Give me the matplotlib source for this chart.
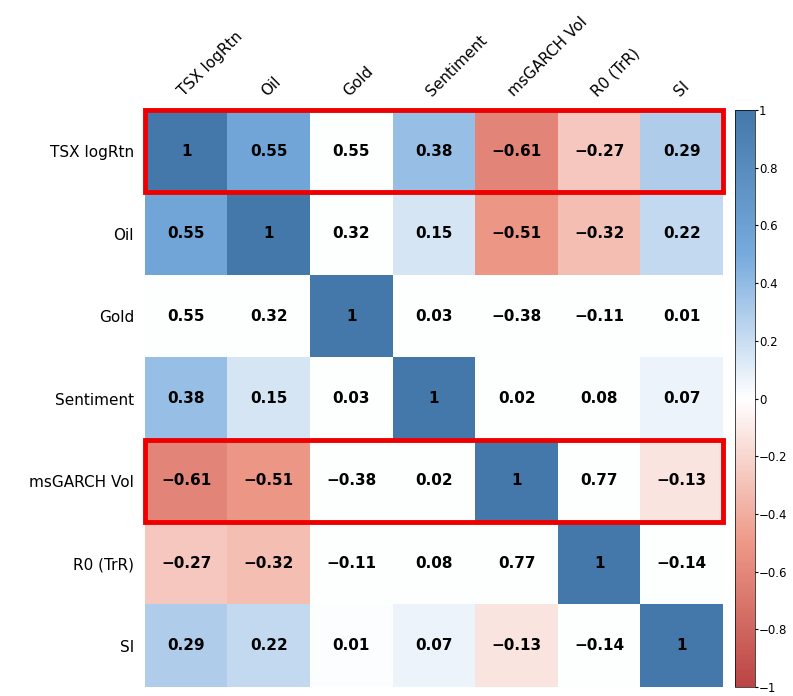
import matplotlib
matplotlib.use("Agg")
import matplotlib.pyplot as plt
import numpy as np
from matplotlib.colors import LinearSegmentedColormap
from matplotlib.patches import Rectangle

labels = ["TSX logRtn", "Oil", "Gold", "Sentiment", "msGARCH Vol", "R0 (TrR)", "SI"]
vals = np.array([
    [1, 0.55, 0.55, 0.38, -0.61, -0.27, 0.29],
    [0.55, 1, 0.32, 0.15, -0.51, -0.32, 0.22],
    [0.55, 0.32, 1, 0.03, -0.38, -0.11, 0.01],
    [0.38, 0.15, 0.03, 1, 0.02, 0.08, 0.07],
    [-0.61, -0.51, -0.38, 0.02, 1, 0.77, -0.13],
    [-0.27, -0.32, -0.11, 0.08, 0.77, 1, -0.14],
    [0.29, 0.22, 0.01, 0.07, -0.13, -0.14, 1],
])
shown = np.array([
    [1, 1, 0, 1, 1, 1, 1],
    [1, 1, 0, 1, 1, 1, 1],
    [0, 0, 1, 0, 0, 0, 0],
    [1, 1, 0, 1, 0, 0, 1],
    [1, 1, 0, 0, 1, 0, 1],
    [1, 1, 0, 0, 0, 1, 0],
    [1, 1, 1, 1, 1, 0, 1],
])
highlight_rows = [0, 4]

cmap = LinearSegmentedColormap.from_list("c", ["#BB4444", "#EE9988", "#FFFFFF", "#77AADD", "#4477AA"])
colorvals = np.where(shown == 1, vals, 0)

fig = plt.figure(figsize=(7.93, 6.96), dpi=100)
ax = fig.add_axes([145/793, 9/696, 578/793, 577/696])
im = ax.imshow(colorvals, cmap=cmap, vmin=-1, vmax=1, aspect="auto")
n = len(labels)
for i in range(n):
    for j in range(n):
        ax.text(j, i, f"{vals[i, j]:g}".replace("-", "\u2212"), ha="center", va="center",
                fontsize=11, fontweight="bold", color="black")
ax.set_xticks(range(n))
ax.set_yticks(range(n))
ax.xaxis.tick_top()
ax.set_xticklabels(labels, rotation=45, ha="left", rotation_mode="anchor", fontsize=11)
ax.set_yticklabels(labels, fontsize=11)
ax.tick_params(length=0, pad=8)
for s in ax.spines.values():
    s.set_visible(False)
for r in highlight_rows:
    ax.add_patch(Rectangle((-0.5, r - 0.5), n, 1, fill=False, edgecolor="#EE0000", lw=3.5, clip_on=False))

cax = fig.add_axes([735/793, 9/696, 20/793, 577/696])
cb = fig.colorbar(im, cax=cax, ticks=np.linspace(-1, 1, 11))
cb.ax.set_yticklabels([f"{t:g}".replace("-", "\u2212") for t in np.round(np.linspace(-1, 1, 11), 1)], fontsize=8.5)
cb.ax.tick_params(length=2, pad=1)
cb.outline.set_linewidth(0.5)
fig.savefig("out.png", dpi=100)
